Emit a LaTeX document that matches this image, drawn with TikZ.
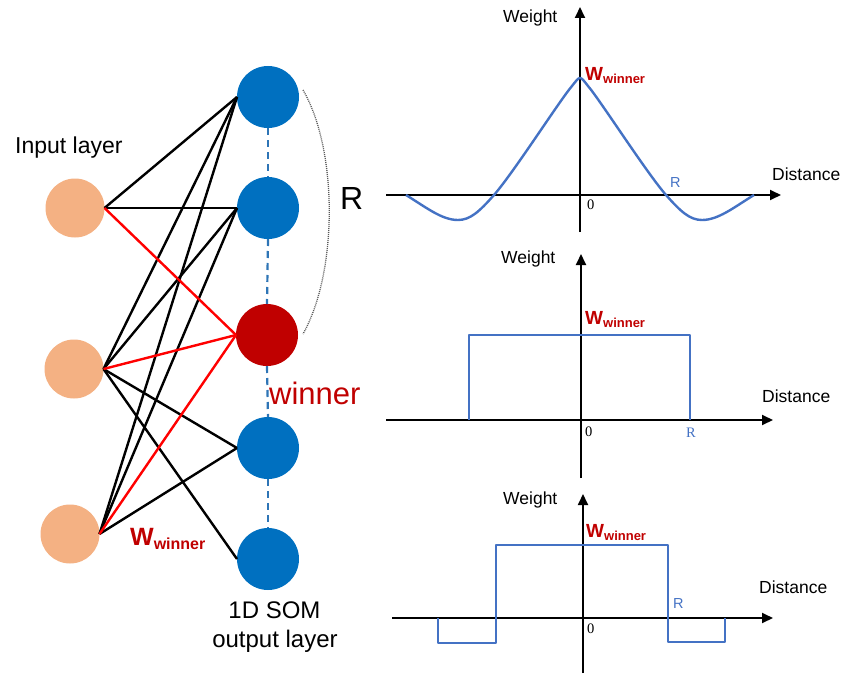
\documentclass[tikz,border=0pt]{standalone}
\usepackage{fontspec}
\setmainfont{Liberation Sans}
\newfontfamily\serifnum{Liberation Serif}
\usetikzlibrary{arrows.meta}
\definecolor{inorange}{HTML}{F4B183}
\definecolor{outblue}{HTML}{0070C0}
\definecolor{winred}{HTML}{C00000}
\definecolor{linered}{HTML}{FF0000}
\definecolor{curveblue}{HTML}{4472C4}
\definecolor{dashblue}{HTML}{2E75B6}
\definecolor{arcgray}{HTML}{595959}
\newcommand{\fs}[1]{\fontsize{#1}{#1}\selectfont}
\newcommand{\Wwin}[3]{{\fs{#1}\bfseries\color{winred}W\raisebox{-#3}{\fs{#2}winner}}}
\begin{document}
\begin{tikzpicture}[x=1pt,y=-1pt,
  inp/.style={circle, fill=inorange, minimum size=59pt, inner sep=0pt, outer sep=0pt},
  outp/.style={circle, fill=outblue, minimum size=62pt, inner sep=0pt, outer sep=0pt},
  conn/.style={line width=2.4pt, black},
  rconn/.style={line width=2.4pt, linered},
  axisline/.style={line width=1.8pt, -{Triangle[length=11pt,width=10pt]}},
  curveline/.style={line width=2.4pt, curveblue, line join=round},
  lbl/.style={inner sep=0pt, anchor=base west},
  glbl/.style={inner sep=0pt, anchor=base west, font=\fs{17.5}},
  rlbl/.style={inner sep=0pt, anchor=base west, font=\fs{14.5}, text=curveblue},
  zlbl/.style={inner sep=0pt, anchor=base west, font=\serifnum\fs{14.5}},
]
\useasboundingbox (0,0) rectangle (846,677);

% ---------- network ----------
\node[inp] (in1) at (75,208) {};
\node[inp] (in2) at (74,369) {};
\node[inp] (in3) at (70,534) {};
\node[outp] (o1) at (268,97) {};
\node[outp] (o2) at (268,208) {};
\node[outp, fill=winred] (o3) at (267,335) {};
\node[outp] (o4) at (268,448) {};
\node[outp] (o5) at (268,559) {};

\foreach \a/\b in {o1/o2,o2/o3,o3/o4,o4/o5}
  \draw[dashblue, line width=2.2pt, dash pattern=on 7pt off 5pt] (\a.south) -- (\b.north);

\foreach \i/\o in {in1/o1,in1/o2,in2/o1,in2/o2,in2/o4,in2/o5,in3/o1,in3/o2,in3/o4}
  \draw[conn] (\i.east) -- (\o.west);
\foreach \i in {in1,in2,in3}
  \draw[rconn] (\i.east) -- (o3.west);

\coordinate (ra) at (303,90);
\coordinate (rb) at (303,334);
\draw[arcgray, line width=1.3pt, dash pattern=on 1pt off 1pt] (ra) .. controls (338,150) and (338,272) .. (rb);

\node[lbl, font=\fs{23}] (inlbl) at (15,153) {Input layer};
\node[lbl, font=\fs{32}] (rbig) at (340,209) {R};
\node[lbl, font=\fs{31}, text=winred] (winlbl) at (269,404) {winner};
\node[lbl] (wwl) at (130,545) {\Wwin{25}{16}{4pt}};
\node[inner sep=0pt, anchor=base, font=\fs{24}] (som1) at (274.5,618) {1D SOM};
\node[inner sep=0pt, anchor=base, font=\fs{24}] (som2) at (275,647) {output layer};

% ---------- graph 1 ----------
\draw[axisline] (386,195) -- (781,195);
\draw[axisline] (580,232) -- (580,7);
\draw[curveline] (406,195) .. controls (427,208) and (442,220) .. (458,220)
  .. controls (470,220) and (479,212) .. (494,195)
  .. controls (514,172) and (560,100) .. (572,86)
  .. controls (576,81) and (578,78) .. (580,78)
  .. controls (582,78) and (584,81) .. (588,86)
  .. controls (600,100) and (646,172) .. (666,195)
  .. controls (681,212) and (690,220) .. (702,220)
  .. controls (718,220) and (733,208) .. (754,195);
\node[glbl] (w1) at (503,23) {Weight};
\node[glbl] (d1) at (772,180) {Distance};
\node[zlbl] (z1) at (587,209) {0};
\node[rlbl] (r1) at (670,187) {R};
\node[lbl] (ww1) at (585,81) {\Wwin{19}{13}{3pt}};

% ---------- graph 2 ----------
\draw[axisline] (386,420) -- (773,420);
\draw[axisline] (581,478) -- (581,254);
\draw[curveline] (469,420) -- (469,335) -- (690,335) -- (690,420);
\node[glbl] (w2) at (501,263) {Weight};
\node[glbl] (d2) at (762,402) {Distance};
\node[zlbl] (z2) at (585,436) {0};
\node[rlbl, font=\serifnum\fs{14.5}] (r2) at (686,437) {R};
\node[lbl] (ww2) at (585,324) {\Wwin{19}{13}{3pt}};

% ---------- graph 3 ----------
\draw[axisline] (392,618) -- (773,618);
\draw[axisline] (583,673) -- (583,494);
\draw[curveline] (438,618) -- (438,643) -- (496,643) -- (496,545) -- (668,545)
  -- (668,642) -- (725,642) -- (725,618);
\node[glbl] (w3) at (503,504) {Weight};
\node[glbl] (d3) at (759,593) {Distance};
\node[zlbl] (z3) at (587,633) {0};
\node[rlbl] (r3) at (673,608) {R};
\node[lbl] (ww3) at (586,537) {\Wwin{19}{13}{3pt}};
\end{tikzpicture}
\end{document}
